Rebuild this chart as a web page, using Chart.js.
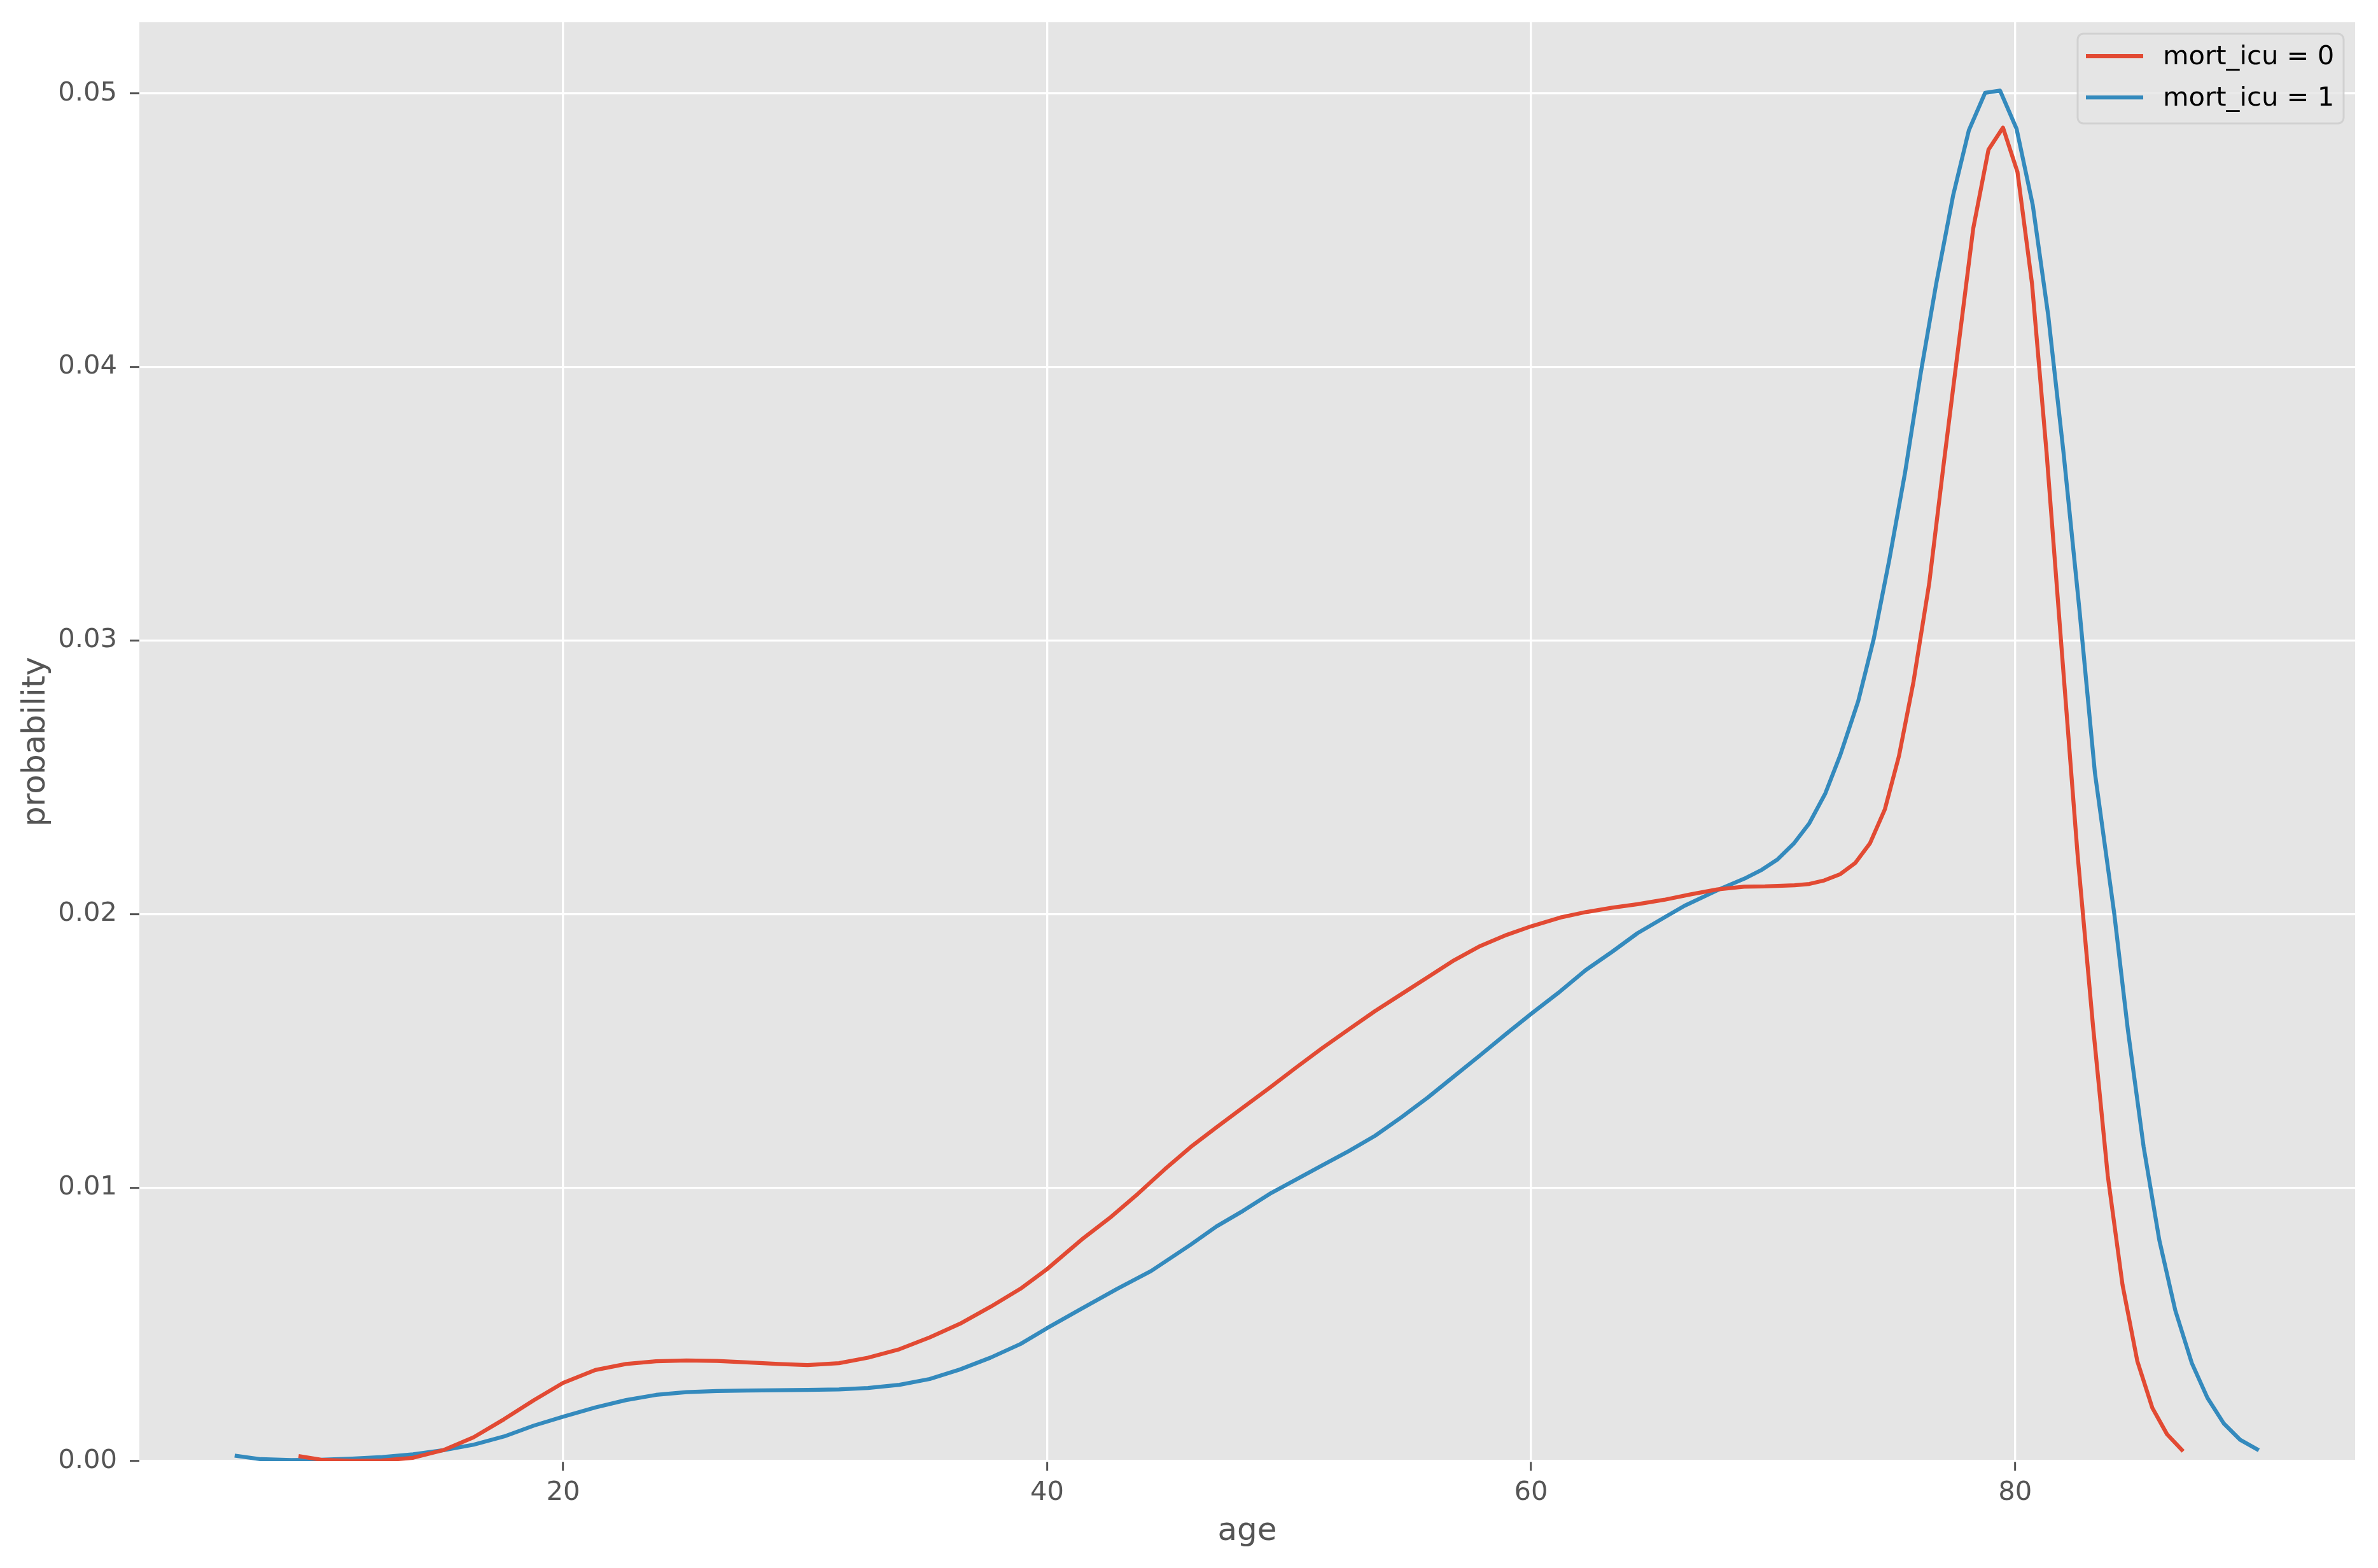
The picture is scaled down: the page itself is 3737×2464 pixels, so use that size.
<!DOCTYPE html>
<html>
<head>
<meta charset="utf-8">
<title>age density by mort_icu</title>
<script src="https://cdn.jsdelivr.net/npm/chart.js@4.4.1/dist/chart.umd.min.js"></script>
<style>
  html, body { margin: 0; padding: 0; background: #ffffff; }
  canvas { display: block; }
</style>
</head>
<body>
<canvas id="kdeChart" width="3737" height="2464"></canvas>
<script>
/*************************************************
 * DATA
 *************************************************/
const seriesLabels = ["mort_icu = 0", "mort_icu = 1"];

const ageSurvived = [
  9.15, 10.0, 11.3, 12.5, 13.8, 15.05, 16.3, 17.56, 18.8, 20.0,
  21.33, 22.6, 23.84, 25.1, 26.36, 27.6, 28.9, 30.1, 31.4, 32.6,
  33.9, 35.15, 36.4, 37.66, 38.9, 40.0, 41.5, 42.66, 43.75, 44.84,
  45.93, 47.0, 48.1, 49.2, 50.28, 51.37, 52.46, 53.55, 54.64, 55.73,
  56.82, 57.9, 59.0, 60.0, 61.2, 62.26, 63.35, 64.4, 65.5, 66.6,
  67.7, 68.8, 69.67, 70.89, 71.5, 72.12, 72.78, 73.39, 74.0, 74.62,
  75.2, 75.8, 76.45, 77.03, 77.65, 78.27, 78.9, 79.5, 80.1, 80.7,
  81.3, 81.9, 82.58, 83.22, 83.83, 84.44, 85.05, 85.67, 86.28, 86.89
];
const probSurvived = [
  0.00017, 0.00005, 0.00001, 0.00002, 0.00012, 0.00040, 0.00087, 0.00153, 0.00223, 0.00286,
  0.00333, 0.00355, 0.00365, 0.00368, 0.00366, 0.00361, 0.00355, 0.00351, 0.00358, 0.00378,
  0.00409, 0.00452, 0.00502, 0.00564, 0.00630, 0.00702, 0.00815, 0.00894, 0.00977, 0.01065,
  0.01148, 0.01220, 0.01293, 0.01365, 0.01438, 0.01510, 0.01578, 0.01645, 0.01707, 0.01769,
  0.01831, 0.01883, 0.01924, 0.01955, 0.01987, 0.02007, 0.02023, 0.02036, 0.02052, 0.02072,
  0.02090, 0.02100, 0.02101, 0.02105, 0.02110, 0.02123, 0.02146, 0.02186, 0.02258, 0.02383,
  0.02577, 0.02848, 0.03208, 0.03631, 0.04070, 0.04506, 0.04794, 0.04875, 0.04712, 0.04304,
  0.03688, 0.02996, 0.02220, 0.01591, 0.01043, 0.00644, 0.00366, 0.00195, 0.00098, 0.00041
];

const ageDied = [
  6.51, 7.5, 8.77, 10.0, 11.28, 12.54, 13.8, 15.05, 16.3, 17.56,
  18.8, 20.0, 21.33, 22.6, 23.84, 25.1, 26.36, 27.6, 28.9, 30.1,
  31.4, 32.6, 33.9, 35.15, 36.4, 37.66, 38.9, 40.0, 41.4, 42.9,
  44.3, 45.93, 47.0, 48.1, 49.2, 50.28, 51.37, 52.46, 53.55, 54.64,
  55.73, 56.82, 57.9, 59.0, 60.0, 61.2, 62.26, 63.35, 64.4, 65.5,
  66.34, 67.92, 68.88, 69.54, 70.19, 70.85, 71.5, 72.16, 72.78, 73.3,
  73.52, 74.16, 74.8, 75.45, 76.1, 76.74, 77.44, 78.09, 78.76, 79.38,
  80.06, 80.73, 81.37, 82.0, 82.66, 83.3, 84.1, 84.66, 85.31, 85.96,
  86.62, 87.3, 87.95, 88.62, 89.3, 90.0
];
const probDied = [
  0.00019, 0.00007, 0.00004, 0.00005, 0.00009, 0.00015, 0.00025, 0.00040, 0.00060, 0.00090,
  0.00130, 0.00162, 0.00196, 0.00223, 0.00242, 0.00252, 0.00256, 0.00258, 0.00259, 0.00260,
  0.00262, 0.00267, 0.00279, 0.00300, 0.00335, 0.00378, 0.00428, 0.00486, 0.00556, 0.00630,
  0.00695, 0.00791, 0.00858, 0.00915, 0.00977, 0.01029, 0.01081, 0.01133, 0.01189, 0.01257,
  0.01329, 0.01407, 0.01484, 0.01564, 0.01635, 0.01717, 0.01795, 0.01862, 0.01930, 0.01987,
  0.02030, 0.02096, 0.02132, 0.02162, 0.02200, 0.02257, 0.02332, 0.02441, 0.02582, 0.02720,
  0.02779, 0.03006, 0.03294, 0.03612, 0.03977, 0.04304, 0.04627, 0.04865, 0.05002, 0.05010,
  0.04871, 0.04592, 0.04188, 0.03688, 0.03112, 0.02515, 0.02000, 0.01577, 0.01150, 0.00808,
  0.00551, 0.00359, 0.00231, 0.00138, 0.00078, 0.00043
];

const xTicks = [20, 40, 60, 80];
const yTicks = [0, 0.01, 0.02, 0.03, 0.04, 0.05];

/*************************************************
 * STYLE (matplotlib "ggplot" look)
 *************************************************/
const RED = "#E24A33";
const BLUE = "#348ABD";
const PANEL = "#E5E5E5";
const TEXT = "#555555";
const FONT = "'DejaVu Sans', sans-serif";

/*************************************************
 * PLUGINS
 *************************************************/
const panelBackground = {
  id: "panelBackground",
  beforeDraw(chart) {
    const { ctx, chartArea: a } = chart;
    ctx.save();
    ctx.fillStyle = PANEL;
    ctx.fillRect(a.left, a.top, a.right - a.left, a.bottom - a.top);
    ctx.restore();
  }
};

const boxLegend = {
  id: "boxLegend",
  afterDatasetsDraw(chart) {
    const { ctx, chartArea: a } = chart;
    const x = a.right - 436, y = a.top + 18, w = 418, h = 141, r = 9;
    ctx.save();
    ctx.beginPath();
    ctx.roundRect(x, y, w, h, r);
    ctx.fillStyle = "rgba(229,229,229,0.8)";
    ctx.fill();
    ctx.lineWidth = 3;
    ctx.strokeStyle = "rgba(204,204,204,0.8)";
    ctx.stroke();

    ctx.font = "41.7px " + FONT;
    ctx.textBaseline = "middle";
    ctx.fillStyle = "#000000";
    chart.data.datasets.forEach((ds, i) => {
      const cy = y + 35 + i * 65;
      ctx.beginPath();
      ctx.moveTo(x + 13, cy);
      ctx.lineTo(x + 103, cy);
      ctx.lineWidth = 6.25;
      ctx.strokeStyle = ds.borderColor;
      ctx.stroke();
      ctx.fillText(ds.label, x + 134, cy + 2);
    });
    ctx.restore();
  }
};

/*************************************************
 * CHART
 *************************************************/
function toPoints(xs, ys) {
  return xs.map((v, i) => ({ x: v, y: ys[i] }));
}

function makeLine(label, xs, ys, color) {
  return {
    label,
    data: toPoints(xs, ys),
    borderColor: color,
    backgroundColor: color,
    borderWidth: 6.25,
    borderCapStyle: "square",
    borderJoinStyle: "round",
    pointRadius: 0,
    tension: 0,
    fill: false
  };
}

// no extra padding from tick label overflow, so the panel sits where matplotlib put it
function noScalePadding(s) {
  s.paddingTop = 0;
  s.paddingBottom = 0;
  s.paddingLeft = 0;
  s.paddingRight = 0;
}

const gridStyle = {
  color: "#ffffff",
  lineWidth: 3.3,
  drawTicks: true,
  tickLength: 15,
  tickColor: TEXT,
  tickWidth: 3
};

new Chart(document.getElementById("kdeChart"), {
  type: "line",
  data: {
    datasets: [
      makeLine(seriesLabels[0], ageSurvived, probSurvived, RED),
      makeLine(seriesLabels[1], ageDied, probDied, BLUE)
    ]
  },
  options: {
    responsive: false,
    devicePixelRatio: 1,
    animation: false,
    layout: { padding: { top: 35, right: 36, left: 0, bottom: 0 } },
    plugins: {
      legend: { display: false },
      tooltip: { enabled: false }
    },
    scales: {
      x: {
        type: "linear",
        min: 2.49,
        max: 94.05,
        afterBuildTicks: s => { s.ticks = xTicks.map(v => ({ value: v })); },
        afterFit: s => { s.height = 168; noScalePadding(s); },
        grid: gridStyle,
        border: { display: false },
        ticks: {
          color: TEXT,
          font: { family: FONT, size: 41.7 },
          padding: 10,
          maxRotation: 0,
          callback: v => String(v)
        },
        title: {
          display: true,
          text: "age",
          color: TEXT,
          font: { family: FONT, size: 50 },
          padding: { top: 0, bottom: 27 }
        }
      },
      y: {
        type: "linear",
        min: 0,
        max: 0.0526,
        afterBuildTicks: s => { s.ticks = yTicks.map(v => ({ value: v })); },
        afterFit: s => { s.width = 219; noScalePadding(s); },
        grid: gridStyle,
        border: { display: false },
        ticks: {
          color: TEXT,
          font: { family: FONT, size: 41.7 },
          padding: 20,
          callback: v => Number(v).toFixed(2)
        },
        title: {
          display: true,
          text: "probability",
          color: TEXT,
          font: { family: FONT, size: 50 },
          padding: { top: 27, bottom: 0 }
        }
      }
    }
  },
  plugins: [panelBackground, boxLegend]
});
</script>
</body>
</html>
